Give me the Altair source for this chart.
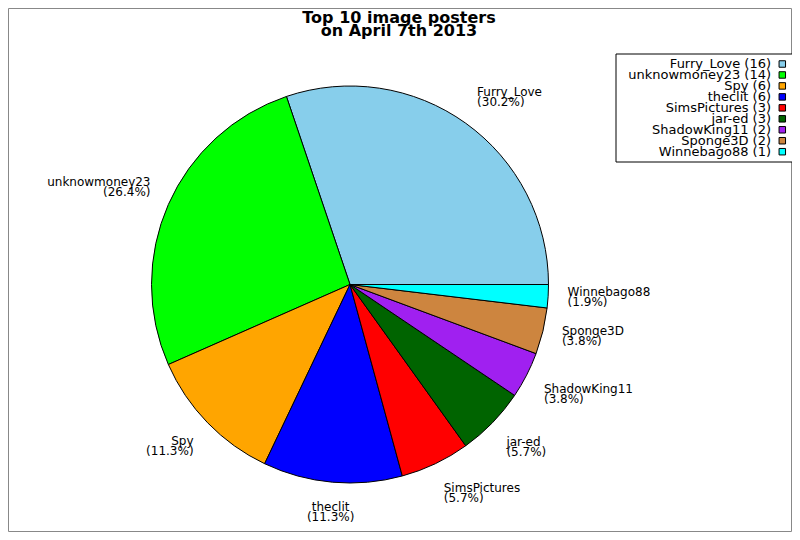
import math
import altair as alt
import pandas as pd

# ---- data ----
names = ["Furry_Love", "unknowmoney23", "Spy", "theclit", "SimsPictures",
         "jar-ed", "ShadowKing11", "Sponge3D", "Winnebago88"]
counts = [16, 14, 6, 6, 3, 3, 2, 2, 1]
colors = ["#87CEEB", "#00FF00", "#FFA500", "#0000FF", "#FF0000",
          "#006400", "#A020F0", "#CD853F", "#00FFFF"]
title_lines = ["Top 10 image posters", "on April 7th 2013"]

df = pd.DataFrame({"name": names, "count": counts})
df["rank"] = range(len(names))
# slices run counter-clockwise from 3 o'clock; Vega draws clockwise, so reverse
df["pie_order"] = len(names) - 1 - df["rank"]

W, H = 784, 524
CX, CY = 342, 276.5
R = 198.5
LR = 218
FONT = "DejaVu Sans"

color = alt.Color("name:N", scale=alt.Scale(domain=names, range=colors), legend=None)
theta_scale = alt.Scale(range=[math.pi / 2, math.pi / 2 + 2 * math.pi])

base = alt.Chart(df)

one = alt.Chart(pd.DataFrame({"a": [0]}))
frame = one.mark_rect(fill="white", stroke="#888888", strokeWidth=1).encode(
    x=alt.value(0.5), x2=alt.value(W - 0.5), y=alt.value(0.5), y2=alt.value(H - 0.5)
)

pie = base.mark_arc(radius=R, stroke="black", strokeWidth=1).encode(
    theta=alt.Theta("count:Q", stack=True, scale=theta_scale),
    order=alt.Order("pie_order:Q"),
    color=color,
    x=alt.value(CX),
    y=alt.value(CY),
)


def labels(group, align, baseline, dy=0):
    return (
        base.transform_joinaggregate(total="sum(count)")
        .transform_window(cum="sum(count)", sort=[alt.SortField("pie_order")], frame=[None, 0])
        .transform_calculate(
            mid="datum.cum - datum.count / 2",
            label="datum.name + '\\n(' + format(datum.count / datum.total * 100, '.1f') + '%)'",
        )
        .transform_filter(alt.FieldOneOfPredicate(field="name", oneOf=group))
        .mark_text(radius=LR, align=align, baseline=baseline, fontSize=12, dy=dy,
                   lineBreak="\n", lineHeight=10, font=FONT, color="black")
        .encode(
            theta=alt.Theta("mid:Q", stack=False, scale=theta_scale),
            text="label:N",
            x=alt.value(CX),
            y=alt.value(CY),
        )
    )


label_layers = [
    labels(["Furry_Love"], "left", "bottom", -8),
    labels(["unknowmoney23"], "right", "bottom", -8),
    labels(["Spy"], "right", "top"),
    labels(["theclit"], "center", "top"),
    labels(["SimsPictures"], "left", "top", 2),
    labels(["jar-ed"], "left", "top", 1),
    labels(["ShadowKing11"], "left", "top"),
    labels(["Sponge3D", "Winnebago88"], "left", "middle", -5),
]

# ---- legend (labels right, swatches at the far right) ----
legend_box = one.mark_rect(fill="white", stroke="black", strokeWidth=1).encode(
    x=alt.value(608), x2=alt.value(786), y=alt.value(46), y2=alt.value(154)
)
legend_y = alt.Y("name:N", sort=names, axis=None,
                 scale=alt.Scale(type="point", range=[56, 143.7], padding=0))
legend_text = base.transform_calculate(
    lbl="datum.name + ' (' + datum.count + ')'"
).mark_text(align="right", baseline="middle", fontSize=13, font=FONT, color="black").encode(
    x=alt.value(763), y=legend_y, text="lbl:N"
)
legend_sq = base.mark_square(size=42, opacity=1, stroke="black", strokeWidth=1).encode(
    x=alt.value(774.3), y=legend_y, color=color
)

# ---- title ----
title = alt.Chart(pd.DataFrame({"t": ["\n".join(title_lines)]})).mark_text(
    fontSize=16, fontWeight="bold", font=FONT, lineBreak="\n", lineHeight=13,
    baseline="top", align="center", color="black"
).encode(x=alt.value(391), y=alt.value(1.5), text="t:N")

chart = alt.layer(frame, pie, *label_layers, legend_box, legend_text, legend_sq, title).properties(
    width=W, height=H, padding=0, autosize="none", background="white"
).configure_view(stroke=None)

chart.save("out.html", embed_options={"renderer": "svg", "actions": False})
